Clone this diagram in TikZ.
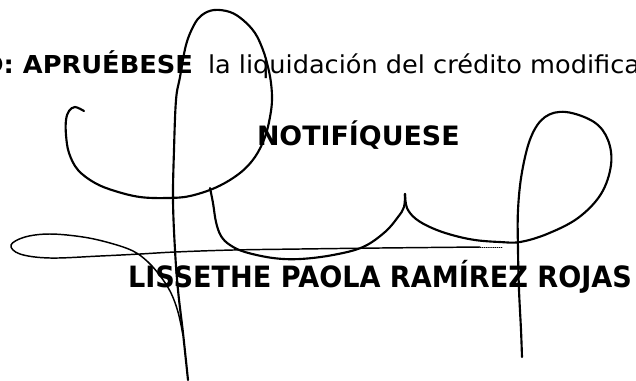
\documentclass[tikz,border=0pt]{standalone}
\usepackage{fontspec}
\usepackage{graphicx}
\setmainfont{DejaVu Sans}

\begin{document}
\begin{tikzpicture}[x=0.75pt,y=-0.75pt,line cap=round,line join=round,
  pen/.style={line width=1.6pt},
  thin pen/.style={line width=1.1pt},
  txt/.style={inner sep=0pt,outer sep=0pt}]
	\useasboundingbox (0,0) rectangle (636,380);
	\clip (0,0) rectangle (636,380);
	% texto
	\node(ord) [txt,anchor=base east] at (193,73) {\resizebox{158pt}{\height}{\fontsize{18.5}{20}\selectfont\bfseries D: APRUÉBESE}};
	\node(liq) [txt,anchor=base west] at (208,73) {\resizebox{324pt}{\height}{\fontsize{18.5}{20}\selectfont la liquidación del crédito modifica}};
	\node(notif) [txt,anchor=base west] at (257,145) {\resizebox{152pt}{\height}{\fontsize{20}{22}\selectfont\bfseries NOTIFÍQUESE}};
	\node(firma) [txt,anchor=base west] at (128,287) {\resizebox{378pt}{\height}{\fontsize{22}{24}\selectfont\bfseries LISSETHE PAOLA RAMÍREZ ROJAS}};
	% rubrica
	\draw[pen] plot[smooth,tension=0.6] coordinates {(188,380) (183,333) (178,290) (175,250) (173,200) (174,150) (176,100) (180,77) (186,45) (194,25) (202,15) (214,10) (230,12) (243,20) (255,33) (263,50) (268,67) (271,83) (272,100) (270,117) (265,137) (255,157) (240,173) (217,187) (190,196) (167,198) (140,197) (115,191) (95,183) (78,170) (69,153) (66,135) (66,120) (69,111) (75,107) (84,111)};
	\draw[pen] plot[smooth,tension=0.6] coordinates {(210,188) (213,203) (216,222) (221,236) (230,245) (245,252) (273,258) (300,259) (333,255) (363,247) (385,232) (398,217) (404,207) (405,194)};
	\draw[pen] plot[smooth,tension=0.6] coordinates {(405,194) (407,208) (416,219) (432,228) (452,235) (475,240) (500,242) (520,242) (547,234) (578,218) (601,194) (611,165) (608,140) (594,122) (566,112) (545,117) (531,137) (522,172) (518,210) (518,250) (519,290) (521,330) (522,357)};
	\draw[thin pen] plot[smooth,tension=0.6] coordinates {(183,335) (178,312) (171,293) (161,277) (148,262) (133,251) (110,243) (83,237) (50,234) (25,237) (11,245) (20,254) (50,258) (100,256) (140,254) (175,252) (233,250) (300,249) (380,248) (480,247)};
	\draw[line width=0.6pt,densely dotted] (480,247) -- (502,247);
\end{tikzpicture}
\end{document}
